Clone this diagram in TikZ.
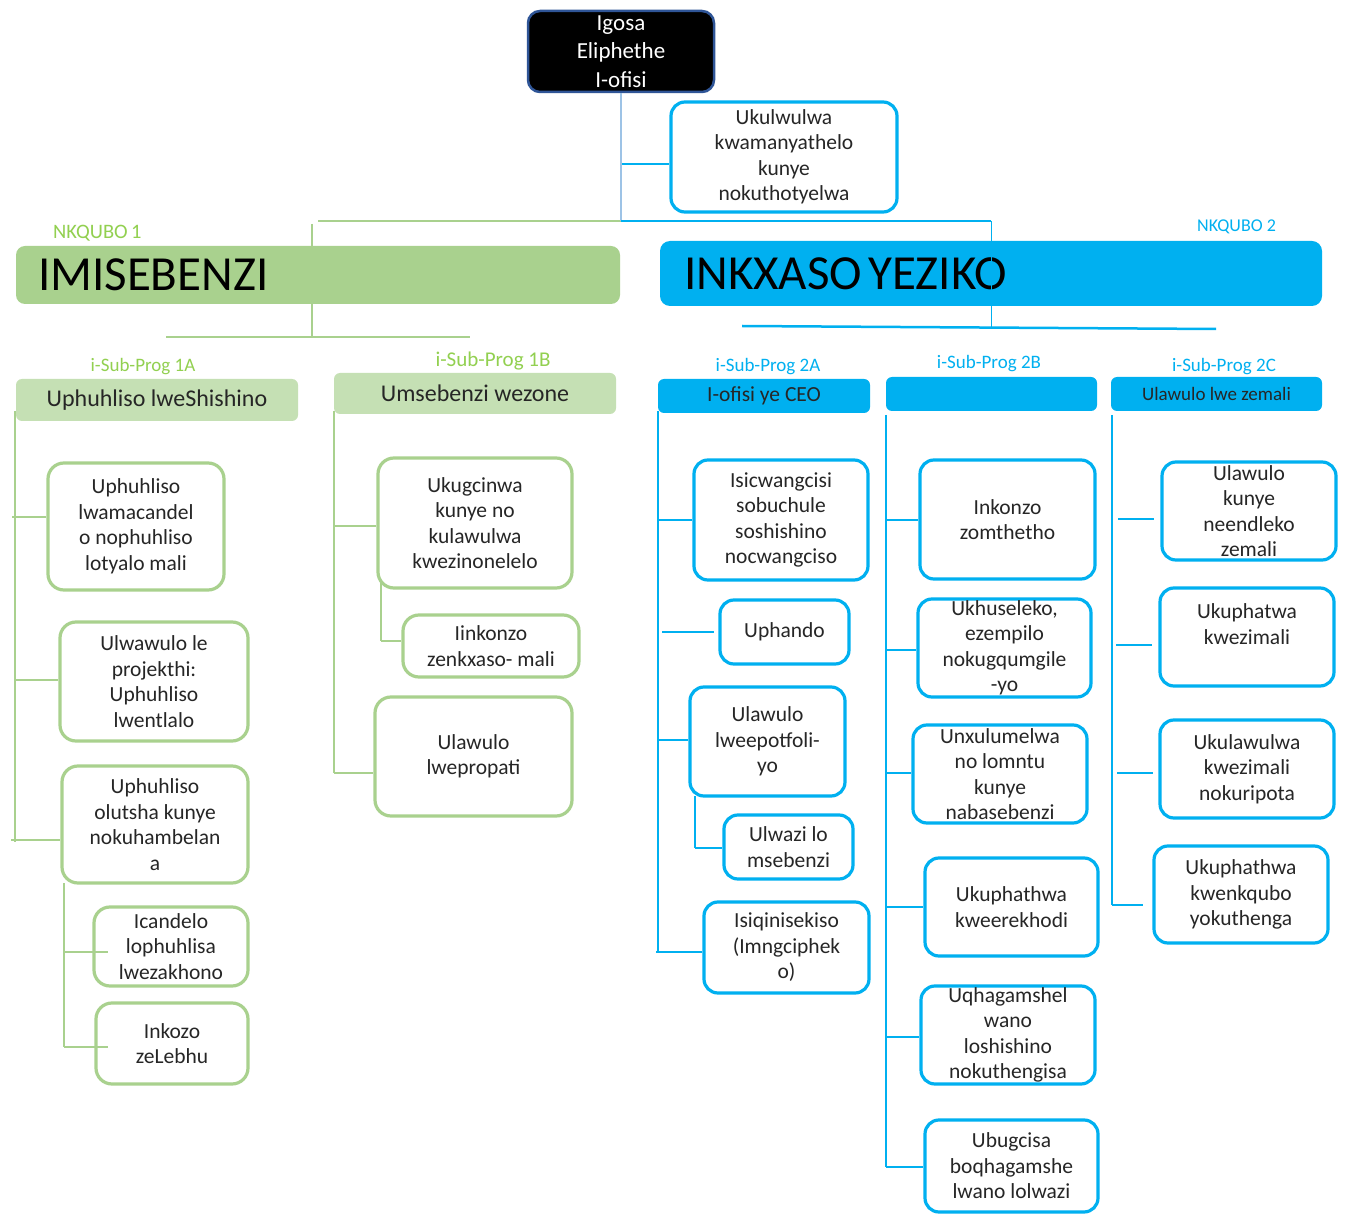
\documentclass[tikz,border=0pt]{standalone}
\usepackage{fontspec}
\setmainfont{Carlito}
\definecolor{gbord}{HTML}{A9D18E}
\definecolor{gsub}{HTML}{C5E0B4}
\definecolor{glab}{HTML}{92D050}
\definecolor{cblue}{HTML}{00B0F0}
\definecolor{lblue}{HTML}{9DC3E6}
\definecolor{dblue}{HTML}{2F5597}
\newcommand\bx[7]{\node[#6,minimum width={(#4-#2)*1pt},minimum height={(#5-#3)*1pt}] (#1) at ({(#2+#4)/2},{(#3+#5)/2}) {#7};}
\tikzset{
  boxtxt/.style={align=center,inner sep=0pt,text=black!85,font=\fontsize{21.5}{25.5}\selectfont},
  gbox/.style={boxtxt,draw=gbord,line width=3.2pt,rounded corners=16pt,fill=white},
  bbox/.style={boxtxt,draw=cblue,line width=3.2pt,rounded corners=14pt,fill=white},
  topbox/.style={align=center,inner sep=0pt,draw=dblue,line width=2.5pt,rounded corners=12pt,fill=black,text=white,font=\fontsize{23}{28.5}\selectfont},
  gl/.style={draw=gbord,line width=2.5pt},
  bl/.style={draw=cblue,line width=2.5pt},
  ghead/.style={fill=gsub,rounded corners=6pt,align=center,inner sep=0pt,text=black!85,font=\fontsize{24}{28}\selectfont},
  bhead/.style={fill=cblue,rounded corners=6pt,align=center,inner sep=0pt,text=black!85,font=\fontsize{21.5}{26}\selectfont},
  glabel/.style={text=glab,inner sep=0pt,font=\fontsize{19}{22}\selectfont},
  blabel/.style={text=cblue,inner sep=0pt,font=\fontsize{19}{22}\selectfont},
  gbar/.style={fill=gbord,rounded corners=9pt,inner sep=0pt,align=left,text=black,font=\fontsize{49}{56}\selectfont},
  bbar/.style={fill=cblue,rounded corners=10pt,inner sep=0pt,align=left,text=black,font=\fontsize{49}{56}\selectfont}
}
\begin{document}
\begin{tikzpicture}[x=1pt,y=-1pt]
\useasboundingbox[fill=white] (0,0) rectangle (1345,1214);
% ---------- top level connectors
\coordinate (jt) at (621,221);
\coordinate (ju) at (622,164);
\coordinate (jg) at (318,221);
\coordinate (jb) at (991,221);
\coordinate (jb2) at (991,327);
\coordinate (g1) at (312,224);
\coordinate (g2) at (312,337);
\coordinate (gh1) at (166,337);
\coordinate (gh2) at (470,337);
\coordinate (bh1) at (742,326);
\coordinate (bh2) at (1216,329);
\draw[gl] (g1) -- (g2);
\draw[gl] (gh1) -- (gh2);
\draw[gl] (jg) -- (jt);
\draw[bl] (bh1) -- (bh2);
% ---------- top boxes
\bx{top}{528}{11}{714}{92}{topbox}{Igosa\\Eliphethe\\I-ofisi}
\bx{uku}{671}{102}{897}{212}{bbox}{Ukulwulwa\\kwamanyathelo\\kunye\\nokuthotyelwa}
\draw[lblue,line width=1.5pt] (top.south) -- (jt);
\draw[bl] (ju) -- (ju -| uku.west);
% ---------- bars
\node[glab,inner sep=0pt,font=\fontsize{20.5}{22}\selectfont,anchor=west] (nk1) at (53,233) {NKQUBO\,1};
\node[cblue,inner sep=0pt,font=\fontsize{18}{22}\selectfont,anchor=west] (nk2) at (1197,227) {NKQUBO 2};
\bx{imis}{16}{246}{620}{304}{gbar,text width=560pt}{IMISEBENZI}
\bx{inkx}{660}{241}{1322}{306}{bbar,text width=614pt}{INKXASO\hspace{6pt}YEZIKO}
\draw[cblue,line width=2pt] (jt) -- (jb);
\draw[cblue,line width=1pt] (jb) -- (jb2);
% ---------- sub headers
\node[glabel] (l1a) at (143,367) {i-Sub-Prog 1A};
\node[glabel,font=\fontsize{21}{24}\selectfont] (l1b) at (493,361) {i-Sub-Prog 1B};
\node[blabel] (l2a) at (768,367) {i-Sub-Prog 2A};
\node[blabel] (l2b) at (989,364) {i-Sub-Prog 2B};
\node[blabel] (l2c) at (1224,367) {i-Sub-Prog 2C};
\bx{s1a}{16}{379}{298}{421}{ghead}{Uphuhliso lweShishino}
\bx{s1b}{334}{373}{616}{414}{ghead}{Umsebenzi wezone}
\bx{s2a}{658}{379}{870}{413}{bhead}{I-ofisi ye CEO}
\bx{s2b}{886}{377}{1097}{411}{bhead}{}
\bx{s2c}{1111}{377}{1322}{411}{bhead,font=\fontsize{19}{23}\selectfont}{Ulawulo lwe zemali}
% ---------- column 1A
\coordinate (t1a) at (15,411);
\coordinate (e1a) at (15,842);
\draw[gl] (t1a) -- (e1a);
\coordinate (j1) at (12,517);
\coordinate (j2) at (15,680);
\coordinate (j3) at (11,840);
\coordinate (u1) at (64,883);
\coordinate (u2) at (64,1047);
\coordinate (j4) at (64,952);
\draw[gl] (u1) -- (u2);
\bx{a1}{48}{463}{224}{590}{gbox}{Uphuhliso\\lwamacandel\\o nophuhliso\\lotyalo mali}
\bx{a2}{60}{622}{248}{741}{gbox}{Ulwawulo le\\projekthi:\\Uphuhliso\\lwentlalo}
\bx{a3}{62}{766}{248}{883}{gbox}{Uphuhliso\\olutsha kunye\\nokuhambelan\\a}
\bx{a4}{94}{907}{248}{986}{gbox}{Icandelo\\lophuhlisa\\lwezakhono}
\bx{a5}{96}{1003}{248}{1084}{gbox}{Inkozo\\zeLebhu}
\draw[gl] (j1) -- (j1 -| a1.west);
\draw[gl] (j2) -- (j2 -| a2.west);
\draw[gl] (j3) -- (j3 -| a3.west);
\draw[gl] (j4) -- ([xshift=16pt]j4 -| a4.west);
\draw[gl] (u2) -- ([xshift=14pt]u2 -| a5.west);
% ---------- column 1B
\coordinate (t1b) at (334,411);
\coordinate (e1b) at (334,773);
\draw[gl] (t1b) -- (e1b);
\coordinate (k1) at (334,526);
\coordinate (v1) at (381,568);
\coordinate (v2) at (381,641);
\draw[gl] (v1) -- (v2);
\bx{b1}{378}{458}{572}{588}{gbox}{Ukugcinwa\\kunye no\\kulawulwa\\kwezinonelelo}
\bx{b2}{403}{615}{579}{677}{gbox}{Iinkonzo\\zenkxaso- mali}
\bx{b3}{375}{697}{572}{816}{gbox}{Ulawulo\\lwepropati}
\draw[gl] (k1) -- (k1 -| b1.west);
\draw[gl] (v2) -- (v2 -| b2.west);
\draw[gl] (e1b) -- (e1b -| b3.west);
% ---------- column 2A
\coordinate (t2a) at (658,411);
\coordinate (e2a) at (658,952);
\draw[bl] (t2a) -- (e2a);
\coordinate (m1) at (658,520);
\coordinate (m2) at (662,632);
\coordinate (m3) at (658,740);
\coordinate (w1) at (695,796);
\coordinate (w2) at (695,848);
\coordinate (m5) at (656,952);
\draw[bl] (w1) -- (w2);
\bx{c1}{694}{460}{868}{580}{bbox}{Isicwangcisi\\sobuchule\\soshishino\\nocwangciso}
\bx{c2}{720}{600}{849}{664}{bbox}{Uphando}
\bx{c3}{690}{687}{845}{796}{bbox}{Ulawulo\\lweepotfoli-\\yo}
\bx{c4}{724}{815}{853}{879}{bbox}{Ulwazi lo\\msebenzi}
\bx{c5}{704}{902}{869}{993}{bbox}{Isiqinisekiso\\(Imngciphek\\o)}
\draw[bl] (m1) -- (m1 -| c1.west);
\draw[bl] (m2) -- ([xshift=-4pt]m2 -| c2.west);
\draw[bl] (m3) -- (m3 -| c3.west);
\draw[bl] (w2) -- (w2 -| c4.west);
\draw[bl] (m5) -- (m5 -| c5.west);
% ---------- column 2B
\coordinate (t2b) at (886,415);
\coordinate (e2b) at (886,1167);
\draw[bl] (t2b) -- (e2b);
\coordinate (n1) at (886,520);
\coordinate (n2) at (886,650);
\coordinate (n3) at (886,773);
\coordinate (n4) at (886,907);
\coordinate (n5) at (886,1037);
\bx{d1}{920}{460}{1095}{579}{bbox}{Inkonzo\\zomthetho}
\bx{d2}{918}{599}{1091}{697}{bbox}{Ukhuseleko,\\ezempilo\\nokugqumgile\\-yo}
\bx{d3}{913}{725}{1087}{823}{bbox}{Unxulumelwa\\no lomntu\\kunye\\nabasebenzi}
\bx{d4}{925}{858}{1098}{956}{bbox}{Ukuphathwa\\kweerekhodi}
\bx{d5}{921}{986}{1095}{1084}{bbox}{Uqhagamshel\\wano\\loshishino\\nokuthengisa}
\bx{d6}{925}{1120}{1098}{1212}{bbox}{Ubugcisa\\boqhagamshe\\lwano lolwazi}
\draw[bl] (n1) -- (n1 -| d1.west);
\draw[bl] (n2) -- (n2 -| d2.west);
\draw[bl] (n3) -- (n3 -| d3.west);
\draw[bl] (n4) -- (n4 -| d4.west);
\draw[bl] (n5) -- (n5 -| d5.west);
\draw[bl] (e2b) -- (e2b -| d6.west);
% ---------- column 2C
\coordinate (t2c) at (1112,415);
\coordinate (e2c) at (1112,905);
\draw[bl] (t2c) -- (e2c);
\coordinate (p1a) at (1118,519);
\coordinate (p1b) at (1154,519);
\coordinate (p2a) at (1116,645);
\coordinate (p2b) at (1152,645);
\coordinate (p3a) at (1117,773);
\coordinate (p3b) at (1153,773);
\bx{e1}{1162}{462}{1336}{560}{bbox}{Ulawulo\\kunye\\neendleko\\zemali}
\bx{e2}{1160}{588}{1334}{686}{bbox}{Ukuphatwa\\kwezimali\\\mbox{}}
\bx{e3}{1160}{720}{1334}{818}{bbox}{Ukulawulwa\\kwezimali\\nokuripota}
\bx{e4}{1154}{846}{1328}{943}{bbox}{Ukuphathwa\\kwenkqubo\\yokuthenga}
\draw[bl] (p1a) -- (p1b);
\draw[bl] (p2a) -- (p2b);
\draw[bl] (p3a) -- (p3b);
\draw[bl] (e2c) -- ([xshift=-9pt]e2c -| e4.west);
\end{tikzpicture}
\end{document}
